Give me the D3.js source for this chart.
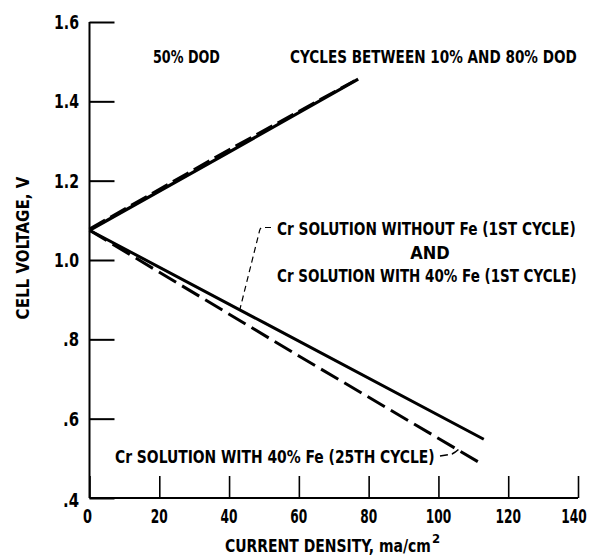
<!DOCTYPE html>
<html>
<head>
<meta charset="utf-8">
<script src="https://cdn.jsdelivr.net/npm/d3@7"></script>
<style>
  html, body { margin: 0; padding: 0; background: #fff; }
  svg text { font-family: "Liberation Sans Narrow", "DejaVu Sans Condensed", "Liberation Sans", sans-serif; font-weight: bold; fill: #000; }
</style>
</head>
<body>
<svg id="chart" width="589" height="557"></svg>
<script>
// ---- data ----
const xTicks = [0, 20, 40, 60, 80, 100, 120, 140];
const xTickLabels = ["0", "20", "40", "60", "80", "100", "120", "140"];
const yTicks = [0.4, 0.6, 0.8, 1.0, 1.2, 1.4, 1.6];
const yTickLabels = [".4", ".6", ".8", "1.0", "1.2", "1.4", "1.6"];

// charge (upper) curves
const chargeSolidX = [0, 40, 77];
const chargeSolidY = [1.075, 1.272, 1.456];
const chargeDashedX = [0, 40, 76];
const chargeDashedY = [1.078, 1.278, 1.452];
// discharge (lower) curves
const dischargeSolidX = [0, 50, 113];
const dischargeSolidY = [1.075, 0.842, 0.548];
const dischargeDashedX = [0, 60, 112];
const dischargeDashedY = [1.075, 0.758, 0.488];

const svg = d3.select("#chart");
const x = d3.scaleLinear().domain([0, 140]).range([89.5, 578]);
const y = d3.scaleLinear().domain([0.4, 1.6]).range([498, 22]);

// horizontally squeeze a text so that its width is `w` (keeps anchor point)
function fit(t, w) {
  const node = t.node();
  const len = node.getComputedTextLength();
  const s = w / len;
  const anchor = t.attr("text-anchor") || "start";
  const x0 = +t.attr("x");
  t.attr("transform", `translate(${x0},0) scale(${s},1) translate(${-x0},0)`);
  return t;
}

// axes
const xAxis = d3.axisTop(x).tickValues(xTicks).tickSize(22).tickFormat("");
const gx = svg.append("g").attr("transform", "translate(0,498)").call(xAxis);
gx.select(".domain").attr("stroke", "#000").attr("stroke-width", 2).attr("d", `M${x(0)},0H${x(140)}`);
gx.selectAll(".tick line").attr("stroke", "#000").attr("stroke-width", 1.6);

const yAxis = d3.axisRight(y).tickValues(yTicks).tickSize(25).tickFormat("");
const gy = svg.append("g").attr("transform", `translate(${x(0)},0)`).call(yAxis);
gy.select(".domain").attr("stroke", "#000").attr("stroke-width", 2).attr("d", `M0,${y(1.6)}V${y(0.4)}`);
gy.selectAll(".tick line").attr("stroke", "#000").attr("stroke-width", 2);

// tick labels
svg.append("g").selectAll("text").data(xTicks).join("text")
  .attr("x", d => x(d) - (d === 0 ? 2 : 0) - (d === 140 ? 4 : 0)).attr("y", 523)
  .attr("text-anchor", "middle").attr("font-size", 19)
  .text((d, i) => xTickLabels[i])
  .each(function(d, i) { fit(d3.select(this), xTickLabels[i].length === 1 ? 9 : xTickLabels[i].length * 8.5); });
svg.append("g").selectAll("text").data(yTicks).join("text")
  .attr("x", 79).attr("y", d => y(d) + 7 + (d === 0.4 ? 2 : 0))
  .attr("text-anchor", "end").attr("font-size", 19)
  .text((d, i) => yTickLabels[i])
  .each(function(d, i) { fit(d3.select(this), yTickLabels[i].length === 2 ? 16 : 25); });

// axis titles
const yt = svg.append("text").attr("x", 0).attr("y", 0)
  .attr("text-anchor", "middle").attr("font-size", 17)
  .text("CELL VOLTAGE, V");
{
  const len = yt.node().getComputedTextLength();
  yt.attr("transform", `translate(29,248) rotate(-90) scale(${143 / len},1)`);
}
fit(svg.append("text").attr("x", 225).attr("y", 552).attr("font-size", 17)
  .text("CURRENT DENSITY, ma/cm"), 206);
svg.append("text").attr("x", 432).attr("y", 543).attr("font-size", 13).text("2");

// series
const line = d3.line().x(d => x(d[0])).y(d => y(d[1]));
const pts = (xs, ys) => xs.map((v, i) => [v, ys[i]]);

svg.append("path").datum(pts(chargeSolidX, chargeSolidY)).attr("d", line)
  .attr("fill", "none").attr("stroke", "#000").attr("stroke-width", 3.2);
svg.append("path").datum(pts(chargeDashedX, chargeDashedY)).attr("d", line)
  .attr("fill", "none").attr("stroke", "#000").attr("stroke-width", 3)
  .attr("stroke-dasharray", "18,6");
svg.append("path").datum(pts(dischargeSolidX, dischargeSolidY)).attr("d", line)
  .attr("fill", "none").attr("stroke", "#000").attr("stroke-width", 3);
svg.append("path").datum(pts(dischargeDashedX, dischargeDashedY)).attr("d", line)
  .attr("fill", "none").attr("stroke", "#000").attr("stroke-width", 3)
  .attr("stroke-dasharray", "20,7");

// annotations
function label(txt, xx, yy, len, anchor) {
  const t = svg.append("text").attr("x", xx).attr("y", yy).attr("font-size", 18).text(txt);
  if (anchor) t.attr("text-anchor", anchor);
  if (len) fit(t, len);
  return t;
}
label("50% DOD", 153, 63, 67);
label("CYCLES BETWEEN 10% AND 80% DOD", 290, 63, 287);
label("Cr SOLUTION WITHOUT Fe (1ST CYCLE)", 277, 235, 299);
label("AND", 430, 259, null, "middle");
label("Cr SOLUTION WITH 40% Fe (1ST CYCLE)", 277, 282, 300);
label("Cr SOLUTION WITH 40% Fe (25TH CYCLE)", 115, 463, 320);

// leader lines
svg.append("path").attr("d", "M271,227.5 H262 Q260,228 259.5,231 L240,309")
  .attr("fill", "none").attr("stroke", "#000").attr("stroke-width", 1.2)
  .attr("stroke-dasharray", "6,4");
svg.append("path").attr("d", "M440,456 L452,454 Q456,452 459,449")
  .attr("fill", "none").attr("stroke", "#000").attr("stroke-width", 1.5)
  .attr("stroke-dasharray", "8,4");
</script>
</body>
</html>
